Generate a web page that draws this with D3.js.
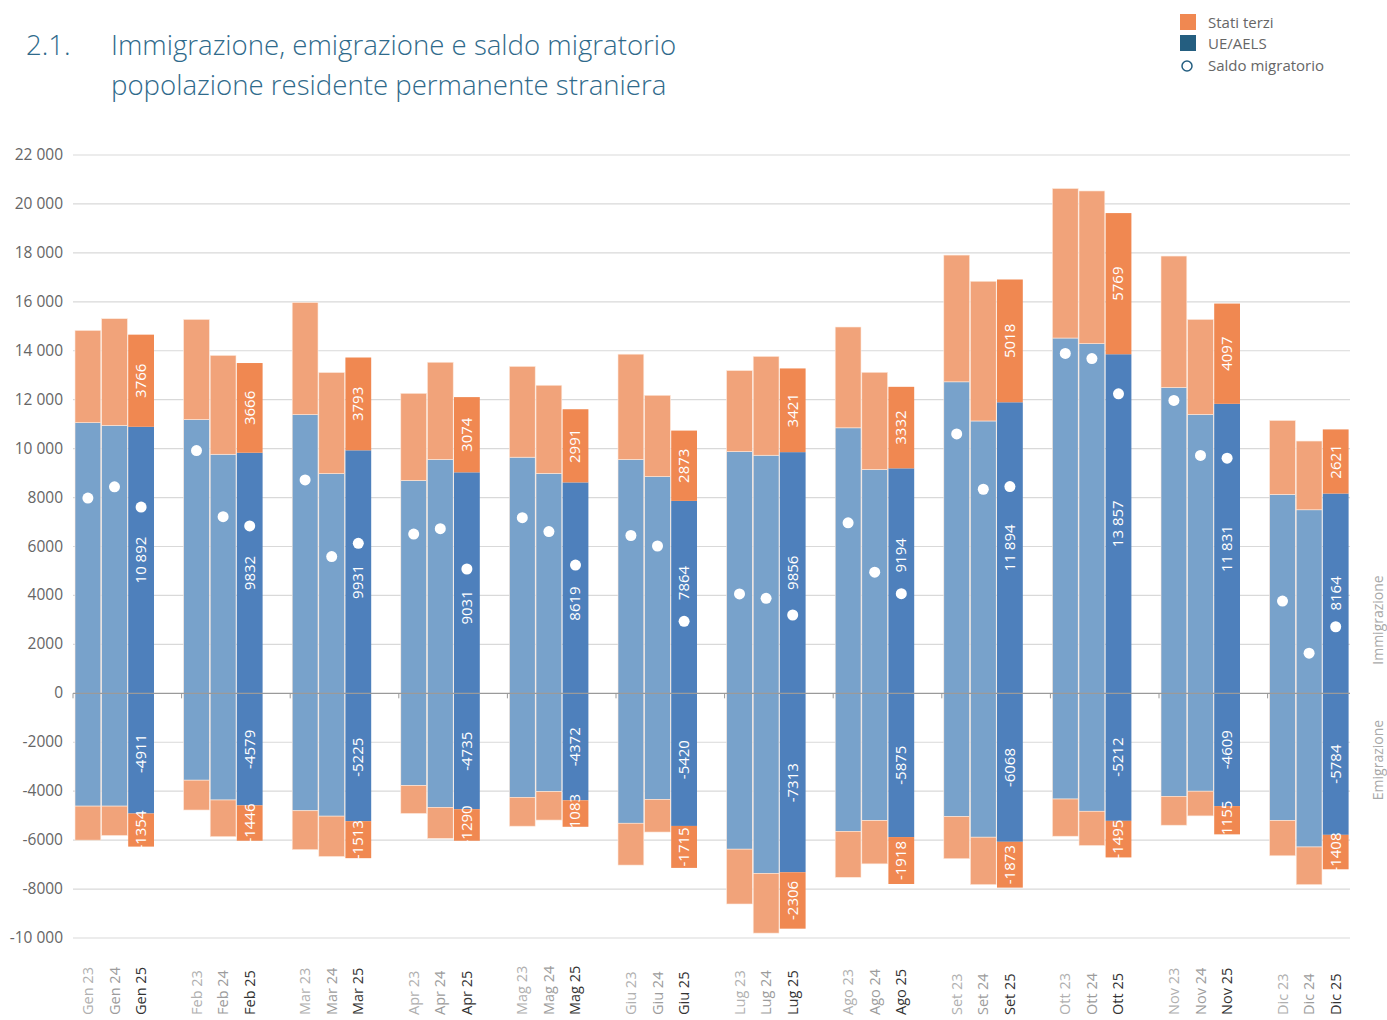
<!DOCTYPE html>
<html>
<head>
<meta charset="utf-8">
<script src="https://cdn.jsdelivr.net/npm/d3@7"></script>
<style>
  body { margin: 0; background: #fff; }
  svg { font-family: 'Open Sans', sans-serif; }
</style>
</head>
<body>
<div id="chart"></div>
<script>
// months and years
const months = ['Gen', 'Feb', 'Mar', 'Apr', 'Mag', 'Giu', 'Lug', 'Ago', 'Set', 'Ott', 'Nov', 'Dic'];
const years = ['23', '24', '25'];
const yTicks = [-10000, -8000, -6000, -4000, -2000, 0, 2000, 4000, 6000, 8000, 10000, 12000, 14000, 16000, 18000, 20000, 22000];

// immigration, UE/AELS
const immUe23 = [11060, 11190, 11390, 8700, 9650, 9560, 9880, 10850, 12730, 14520, 12500, 8130];
const immUe24 = [10950, 9770, 8980, 9560, 8990, 8860, 9730, 9150, 11130, 14290, 11400, 7500];
const immUe25 = [10892, 9832, 9931, 9031, 8619, 7864, 9856, 9194, 11894, 13857, 11831, 8164];
// immigration, Stati terzi
const immTe23 = [3770, 4090, 4580, 3560, 3710, 4300, 3310, 4120, 5180, 6110, 5370, 3020];
const immTe24 = [4360, 4040, 4130, 3970, 3600, 3320, 4040, 3970, 5710, 6240, 3880, 2810];
const immTe25 = [3766, 3666, 3793, 3074, 2991, 2873, 3421, 3332, 5018, 5769, 4097, 2621];
// emigration, UE/AELS
const emiUe23 = [-4610, -3550, -4800, -3770, -4250, -5310, -6370, -5640, -5040, -4320, -4210, -5200];
const emiUe24 = [-4610, -4360, -5020, -4660, -4020, -4340, -7360, -5200, -5880, -4820, -4000, -6280];
const emiUe25 = [-4911, -4579, -5225, -4735, -4372, -5420, -7313, -5875, -6068, -5212, -4609, -5784];
// emigration, Stati terzi
const emiTe23 = [-1390, -1220, -1590, -1140, -1180, -1710, -2240, -1880, -1720, -1520, -1180, -1440];
const emiTe24 = [-1200, -1500, -1650, -1270, -1160, -1330, -2440, -1770, -1940, -1400, -1010, -1540];
const emiTe25 = [-1354, -1446, -1513, -1290, -1083, -1715, -2306, -1918, -1873, -1495, -1155, -1408];
// saldo migratorio
const saldo23 = [7980, 9920, 8720, 6510, 7180, 6450, 4060, 6970, 10600, 13890, 11970, 3770];
const saldo24 = [8440, 7220, 5590, 6730, 6610, 6020, 3880, 4950, 8340, 13680, 9720, 1640];
const saldo25 = [7610, 6840, 6130, 5080, 5240, 2940, 3200, 4070, 8450, 12240, 9610, 2720];

const immUe = [immUe23, immUe24, immUe25];
const immTe = [immTe23, immTe24, immTe25];
const emiUe = [emiUe23, emiUe24, emiUe25];
const emiTe = [emiTe23, emiTe24, emiTe25];
const saldo = [saldo23, saldo24, saldo25];

const COLORS = {
  teLight: '#f1a37a', te: '#f08851',
  ueLight: '#78a2cb', ue: '#4e80bc',
  legendUe: '#245e80', title: '#2f6a8b', text: '#666'
};

const width = 1387, height = 1020;
const plot = {left: 73, right: 1350, top: 155, bottom: 938};

// Swiss style: separator only from 10 000
function fmt(v) {
  const a = Math.abs(v);
  const s = a >= 10000 ? d3.format(',')(a).replace(/,/g, ' ') : String(a);
  return (v < 0 ? '-' : '') + s;
}

const svg = d3.select('#chart').append('svg')
  .attr('width', width)
  .attr('height', height);

const y = d3.scaleLinear()
  .domain([-10000, 22000])
  .range([plot.bottom, plot.top]);

const x0 = d3.scaleBand()
  .domain(months)
  .range([plot.left, plot.left + 12 * 108.6]);
const x1 = d3.scaleBand()
  .domain(years)
  .range([2, 81])
  .paddingInner(0.03);

// gridlines
svg.append('g')
  .selectAll('line')
  .data(yTicks.filter(d => d !== 0))
  .enter().append('line')
  .attr('x1', plot.left).attr('x2', plot.right)
  .attr('y1', d => y(d)).attr('y2', d => y(d))
  .attr('stroke', '#d9d9d9')
  .attr('stroke-width', 1.2);

// y axis labels
svg.append('g')
  .selectAll('text')
  .data(yTicks)
  .enter().append('text')
  .attr('x', 63)
  .attr('y', d => y(d) + 5)
  .attr('text-anchor', 'end')
  .attr('fill', COLORS.text)
  .style('font-size', '15.5px')
  .text(d => fmt(d));

// bars
const rows = [];
months.forEach((m, i) => {
  years.forEach((yr, k) => {
    const cur = k === 2;
    const bx = x0(m) + x1(yr);
    const dot = saldo[k][i];
    rows.push({m, yr, bx, y0: 0, y1: immUe[k][i], c: cur ? COLORS.ue : COLORS.ueLight, cur, dot});
    rows.push({m, yr, bx, y0: immUe[k][i], y1: immUe[k][i] + immTe[k][i], c: cur ? COLORS.te : COLORS.teLight, cur});
    rows.push({m, yr, bx, y0: 0, y1: emiUe[k][i], c: cur ? COLORS.ue : COLORS.ueLight, cur});
    rows.push({m, yr, bx, y0: emiUe[k][i], y1: emiUe[k][i] + emiTe[k][i], c: cur ? COLORS.te : COLORS.teLight, cur});
  });
});

svg.append('g')
  .selectAll('rect')
  .data(rows)
  .enter().append('rect')
  .attr('x', d => d.bx)
  .attr('width', x1.bandwidth())
  .attr('y', d => Math.min(y(d.y0), y(d.y1)))
  .attr('height', d => Math.abs(y(d.y0) - y(d.y1)))
  .attr('fill', d => d.c)
  .attr('stroke', d => d.cur ? 'none' : '#fde9dc')
  .attr('stroke-width', 0.6);

// zero line + group ticks
svg.append('line')
  .attr('x1', plot.left).attr('x2', plot.right)
  .attr('y1', y(0)).attr('y2', y(0))
  .attr('stroke', '#9a9a9a')
  .attr('stroke-width', 1.2);
svg.append('g')
  .selectAll('line')
  .data(months)
  .enter().append('line')
  .attr('x1', d => x0(d)).attr('x2', d => x0(d))
  .attr('y1', y(0)).attr('y2', y(0) + 5)
  .attr('stroke', '#9a9a9a');

// label position: middle of the segment, moved off the saldo dot if they collide
function labelY(d) {
  const mid = (y(d.y0) + y(d.y1)) / 2;
  if (d.dot === undefined) return mid;
  const half = fmt(d.y1 - d.y0).length * 4.6;
  const dy = y(d.dot);
  const gap = half + 14;
  if (Math.abs(mid - dy) >= gap) return mid;
  return mid > dy ? dy + gap + 6 : dy - gap - 6;
}

// value labels in 2025 bars
svg.append('g')
  .selectAll('text')
  .data(rows.filter(d => d.cur))
  .enter().append('text')
  .attr('transform', d => `translate(${d.bx + x1.bandwidth() / 2 + 5},${labelY(d)}) rotate(-90)`)
  .attr('text-anchor', 'middle')
  .attr('fill', '#fff')
  .style('font-size', '15px')
  .text(d => fmt(d.y1 - d.y0));

// saldo dots
const dots = [];
months.forEach((m, i) => {
  years.forEach((yr, k) => dots.push({x: x0(m) + x1(yr) + x1.bandwidth() / 2, v: saldo[k][i]}));
});
svg.append('g')
  .selectAll('circle')
  .data(dots)
  .enter().append('circle')
  .attr('cx', d => d.x)
  .attr('cy', d => y(d.v))
  .attr('r', 5.5)
  .attr('fill', '#fff');

// x labels
const yearColor = {'23': '#b0b0b0', '24': '#9c9c9c', '25': '#333'};
const xl = [];
months.forEach(m => years.forEach(yr => xl.push({m, yr})));
svg.append('g')
  .selectAll('text')
  .data(xl)
  .enter().append('text')
  .attr('transform', d => `translate(${x0(d.m) + x1(d.yr) + x1.bandwidth() / 2 + 5},1015) rotate(-90)`)
  .attr('fill', d => yearColor[d.yr])
  .style('font-size', '14.5px')
  .text(d => `${d.m} ${d.yr}`);

// side labels
[['Immigrazione', 620], ['Emigrazione', 760]].forEach(([t, cy]) => {
  svg.append('text')
    .attr('transform', `translate(1383,${cy}) rotate(-90)`)
    .attr('text-anchor', 'middle')
    .attr('fill', '#a8a8a8')
    .style('font-size', '14px')
    .text(t);
});

// title
const title = svg.append('g').attr('fill', COLORS.title).style('font-size', '27.6px').style('font-weight', 300);
title.append('text').attr('x', 26).attr('y', 55).text('2.1.');
title.append('text').attr('x', 111).attr('y', 55).text('Immigrazione, emigrazione e saldo migratorio');
title.append('text').attr('x', 111).attr('y', 95).text('popolazione residente permanente straniera');

// legend
const legend = svg.append('g').attr('transform', 'translate(1180,14)');
legend.append('rect').attr('width', 16).attr('height', 16).attr('fill', COLORS.te);
legend.append('rect').attr('y', 21).attr('width', 16).attr('height', 16).attr('fill', COLORS.legendUe);
legend.append('circle').attr('cx', 7).attr('cy', 52).attr('r', 5)
  .attr('fill', 'none').attr('stroke', COLORS.legendUe).attr('stroke-width', 1.5);
[['Stati terzi', 14], ['UE/AELS', 35], ['Saldo migratorio', 57]].forEach(([t, ty]) => {
  legend.append('text').attr('x', 28).attr('y', ty)
    .attr('fill', COLORS.text).style('font-size', '15px').text(t);
});
</script>
</body>
</html>
